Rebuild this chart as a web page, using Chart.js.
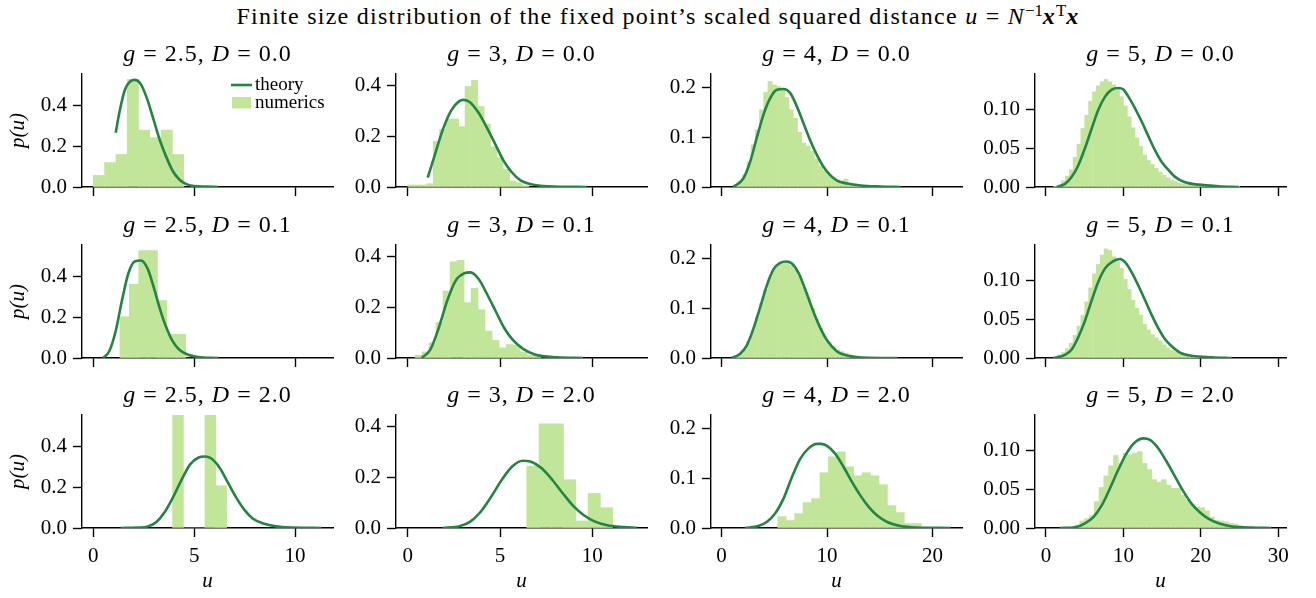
<!DOCTYPE html>
<html>
<head>
<meta charset="utf-8">
<script src="https://cdn.jsdelivr.net/npm/chart.js@4.4.1/dist/chart.umd.min.js"></script>
<style>
  body { margin: 0; background: #fff; width: 1316px; height: 598px; position: relative; overflow: hidden;
         font-family: "Liberation Serif", "Times New Roman", serif; color: #000; }
  .ttl { position: absolute; text-align: center; white-space: nowrap; line-height: 30px; font-size: 24px; letter-spacing: 1px; }
  .main { letter-spacing: 1.25px; }
  sup { font-size: 0.7em; line-height: 0; vertical-align: 0.5em; letter-spacing: 0; }
  canvas { position: absolute; }
</style>
</head>
<body>
<div class="ttl main" style="left:0;width:1316px;top:1px">Finite size distribution of the fixed point’s scaled squared distance <i>u</i> = <i>N</i><sup>−1</sup><b><i>x</i></b><sup>T</sup><b><i>x</i></b></div>
<script>
// ---- labels / axes -------------------------------------------------------
const gLabels = ['2.5', '3', '4', '5'];
const dLabels = ['0.0', '0.1', '2.0'];
const legendLabels = ['theory', 'numerics'];

const xMin = [-0.56, -0.64, -1.0, -1.42];
const xMax = [11.88, 12.97, 22.8, 31.0];
const xTicks = [[0, 5, 10], [0, 5, 10], [0, 10, 20], [0, 10, 20, 30]];
const yMax = [0.556, 0.445, 0.227, 0.145];
const yTicks = [[0, 0.2, 0.4], [0, 0.2, 0.4], [0, 0.1, 0.2], [0, 0.05, 0.1]];
const yTickLabels = [['0.0', '0.2', '0.4'], ['0.0', '0.2', '0.4'], ['0.0', '0.1', '0.2'], ['0.00', '0.05', '0.10']];

// ---- histogram bins: first edge and width, rows = D, cols = g ---------------
const binStart = [[0.0, 0.0, 1.2, 1.0], [1.32, 0.39, 1.2, 1.0], [3.93, 6.45, 5.33, 3.75]];
const binWidth = [[0.56, 0.345, 0.4, 0.5], [0.465, 0.38, 0.4, 0.5], [0.535, 0.665, 0.8, 0.62]];

// ---- numerics (histogram densities) ----------------------------------------
const hist_g25_D00 = [0.057, 0.12, 0.16, 0.53, 0.28, 0.243, 0.28, 0.16];
const hist_g3_D00 = [0.008, 0.008, 0.008, 0.013, 0.18, 0.228, 0.268, 0.268, 0.238, 0.396, 0.42, 0.317, 0.248, 0.158, 0.116, 0.07, 0.024, 0.017, 0.005];
const hist_g4_D00 = [0.005, 0.012, 0.025, 0.05, 0.085, 0.115, 0.155, 0.19, 0.212, 0.205, 0.202, 0.195, 0.18, 0.155, 0.138, 0.11,
  0.088, 0.082, 0.072, 0.056, 0.042, 0.033, 0.025, 0.019, 0.014, 0.012, 0.016, 0.008, 0.006, 0.004, 0.003, 0.003, 0.002,
  0.001, 0.001, 0.001, 0.001, 0.001, 0.001];
const hist_g5_D00 = [0.001, 0.003, 0.008, 0.014, 0.022, 0.038, 0.055, 0.075, 0.092, 0.11, 0.122, 0.13, 0.135, 0.138, 0.135, 0.131,
  0.125, 0.116, 0.104, 0.09, 0.076, 0.063, 0.052, 0.041, 0.034, 0.029, 0.024, 0.019, 0.015, 0.012, 0.009, 0.007, 0.005, 0.004,
  0.003, 0.003, 0.002, 0.002, 0.002, 0.001, 0.001, 0.001, 0.001, 0.001, 0.001, 0.001, 0.001, 0.001];

const hist_g25_D01 = [0.203, 0.363, 0.528, 0.528, 0.283, 0.117, 0.117];
const hist_g3_D01 = [0.011, 0.024, 0.06, 0.14, 0.264, 0.379, 0.385, 0.218, 0.275, 0.19, 0.106, 0.069, 0.04, 0.053, 0.05, 0.024, 0.011, 0.016];
const hist_g4_D01 = [0.003, 0.009, 0.018, 0.034, 0.056, 0.082, 0.11, 0.138, 0.162, 0.178, 0.186, 0.19, 0.19, 0.186, 0.178, 0.164,
  0.143, 0.122, 0.1, 0.078, 0.06, 0.044, 0.032, 0.024, 0.016, 0.013, 0.01, 0.006, 0.004, 0.003, 0.002, 0.002, 0.001, 0.001, 0.001];
const hist_g5_D01 = [0.001, 0.004, 0.007, 0.012, 0.019, 0.029, 0.041, 0.055, 0.072, 0.09, 0.108, 0.12, 0.132, 0.14, 0.138, 0.13,
  0.124, 0.115, 0.101, 0.088, 0.074, 0.064, 0.055, 0.043, 0.036, 0.03, 0.026, 0.022, 0.017, 0.013, 0.01, 0.008, 0.006, 0.005,
  0.004, 0.003, 0.003, 0.002, 0.002, 0.001, 0.001, 0.001, 0.001, 0.001, 0.001];

const hist_g25_D20 = [0.556, 0, 0, 0.556, 0.208];
const hist_g3_D20 = [0.244, 0.41, 0.41, 0.19, 0.028, 0.136, 0.08];
const hist_g4_D20 = [0.023, 0.015, 0.029, 0.051, 0.059, 0.111, 0.143, 0.153, 0.123, 0.105, 0.111, 0.105, 0.087, 0.045, 0.031, 0.009, 0.009];
const hist_g5_D20 = [0.004, 0.009, 0.012, 0.016, 0.034, 0.052, 0.067, 0.08, 0.093, 0.083, 0.096, 0.094, 0.096, 0.098, 0.083, 0.075,
  0.062, 0.059, 0.062, 0.055, 0.051, 0.051, 0.042, 0.036, 0.03, 0.027, 0.026, 0.022, 0.014, 0.01, 0.009, 0.008, 0.006, 0.005,
  0.003, 0.002, 0.001];

// ---- theory curves [u, p(u)] -------------------------------------------------
const theory_g25_D00 = [[1.11, 0.267], [1.32, 0.38], [1.57, 0.48], [1.84, 0.52], [2.05, 0.527], [2.36, 0.505], [2.68, 0.43],
  [2.99, 0.33], [3.3, 0.23], [3.62, 0.147], [3.93, 0.08], [4.25, 0.038], [4.56, 0.017], [4.98, 0.005], [5.6, 0.002], [6.2, 0]];
const theory_g3_D00 = [[1.08, 0.037], [1.42, 0.116], [1.88, 0.222], [2.34, 0.3], [2.79, 0.338], [3.02, 0.343], [3.37, 0.334],
  [3.82, 0.294], [4.28, 0.235], [4.74, 0.169], [5.2, 0.103], [5.65, 0.057], [6.11, 0.026], [6.69, 0.011], [7.6, 0.003], [9.7, 0]];
const theory_g4_D00 = [[1.1, 0], [2.06, 0.017], [2.7, 0.05], [3.33, 0.098], [3.97, 0.145], [4.6, 0.178], [5.2, 0.195], [5.87, 0.197],
  [6.5, 0.189], [7.14, 0.162], [7.77, 0.128], [8.4, 0.094], [9.05, 0.064], [9.68, 0.04], [10.3, 0.024], [10.95, 0.013],
  [11.9, 0.007], [13.2, 0.003], [15.1, 0.001], [17, 0]];
const theory_g5_D00 = [[1.38, 0], [2.46, 0.004], [3.32, 0.013], [4.18, 0.028], [5.04, 0.05], [5.9, 0.075], [6.76, 0.099],
  [7.63, 0.116], [8.49, 0.125], [9.35, 0.127], [9.99, 0.125], [10.64, 0.116], [11.5, 0.101], [12.36, 0.084], [13.23, 0.065],
  [14.09, 0.047], [14.95, 0.032], [15.81, 0.022], [16.67, 0.013], [17.96, 0.006], [19.68, 0.003], [22.3, 0.001], [24.9, 0]];

const theory_g25_D01 = [[0.48, 0], [0.79, 0.033], [1.11, 0.133], [1.42, 0.283], [1.74, 0.417], [2.05, 0.475], [2.36, 0.48],
  [2.68, 0.442], [2.99, 0.35], [3.3, 0.242], [3.62, 0.15], [3.93, 0.083], [4.25, 0.042], [4.67, 0.017], [5.19, 0.005], [6.2, 0]];
const theory_g3_D01 = [[0.75, 0], [1.22, 0.033], [1.68, 0.119], [2.13, 0.224], [2.59, 0.304], [3.05, 0.333], [3.39, 0.337],
  [3.85, 0.31], [4.3, 0.251], [4.76, 0.185], [5.22, 0.119], [5.67, 0.073], [6.25, 0.036], [6.93, 0.013], [8.08, 0.003], [9.5, 0]];
const theory_g4_D01 = [[0.95, 0], [1.74, 0.008], [2.38, 0.025], [3.01, 0.058], [3.65, 0.101], [4.28, 0.145], [4.92, 0.178],
  [5.55, 0.191], [6.12, 0.194], [6.67, 0.19], [7.3, 0.171], [7.93, 0.138], [8.57, 0.101], [9.2, 0.068], [9.84, 0.041],
  [10.47, 0.023], [11.11, 0.011], [11.9, 0.005], [13.2, 0.001], [16.7, 0]];
const theory_g5_D01 = [[0.95, 0], [2.46, 0.004], [3.32, 0.011], [4.18, 0.027], [5.04, 0.048], [5.9, 0.074], [6.76, 0.098],
  [7.63, 0.115], [8.49, 0.123], [9.56, 0.127], [10.21, 0.123], [11.07, 0.11], [11.93, 0.093], [12.8, 0.074], [13.66, 0.055],
  [14.52, 0.038], [15.38, 0.024], [16.24, 0.015], [17.31, 0.007], [18.82, 0.003], [21.4, 0.001], [24.0, 0]];

const theory_g25_D20 = [[1.35, 0], [2.19, 0.002], [2.71, 0.008], [3.13, 0.03], [3.55, 0.08], [3.97, 0.155], [4.38, 0.238],
  [4.8, 0.313], [5.22, 0.347], [5.53, 0.352], [5.85, 0.342], [6.26, 0.297], [6.68, 0.222], [7.1, 0.147], [7.5, 0.088],
  [7.9, 0.047], [8.43, 0.022], [9.05, 0.008], [9.9, 0.002], [11.3, 0]];
const theory_g3_D20 = [[1.88, 0], [2.8, 0.007], [3.37, 0.024], [3.94, 0.063], [4.52, 0.123], [5.09, 0.189], [5.66, 0.242],
  [6.23, 0.265], [6.69, 0.261], [7.26, 0.235], [7.84, 0.189], [8.41, 0.136], [8.98, 0.086], [9.55, 0.05], [10.12, 0.026],
  [10.81, 0.011], [11.73, 0.004], [12.42, 0.001]];
const theory_g4_D20 = [[2.22, 0], [3.49, 0.004], [4.28, 0.012], [5.08, 0.029], [5.87, 0.059], [6.67, 0.102], [7.46, 0.139],
  [8.25, 0.16], [9.05, 0.169], [9.43, 0.169], [10.0, 0.165], [10.79, 0.149], [11.59, 0.122], [12.38, 0.092], [13.17, 0.065],
  [13.97, 0.042], [14.76, 0.025], [15.71, 0.012], [16.98, 0.004], [18.57, 0.001], [21.7, 0]];
const theory_g5_D20 = [[1.81, 0], [3.75, 0.001], [5.04, 0.006], [6.12, 0.014], [7.2, 0.029], [8.27, 0.051], [9.35, 0.075],
  [10.42, 0.096], [11.5, 0.11], [12.57, 0.115], [13.44, 0.113], [14.52, 0.102], [15.59, 0.085], [16.67, 0.066], [17.75, 0.047],
  [18.82, 0.031], [19.9, 0.02], [20.97, 0.012], [22.27, 0.006], [23.99, 0.002], [26.57, 0.0005], [29.1, 0]];

const histograms = [
  [hist_g25_D00, hist_g3_D00, hist_g4_D00, hist_g5_D00],
  [hist_g25_D01, hist_g3_D01, hist_g4_D01, hist_g5_D01],
  [hist_g25_D20, hist_g3_D20, hist_g4_D20, hist_g5_D20]
];
const theories = [
  [theory_g25_D00, theory_g3_D00, theory_g4_D00, theory_g5_D00],
  [theory_g25_D01, theory_g3_D01, theory_g4_D01, theory_g5_D01],
  [theory_g25_D20, theory_g3_D20, theory_g4_D20, theory_g5_D20]
];

// ---- layout (pixels of the axes boxes) ------------------------------------
const FONT = '"Liberation Serif", "Times New Roman", serif';
const lineColor = '#238443';
const histColor = '#c2e699';
const axLeft = [82, 396, 711, 1035];
const axTop = [74, 245, 415];
const axW = 251, axH = 113;
const padT = 8, padR = 16;
const padL = [82, 60, 60, 60];
const padB = [12, 12, 70];

// legend drawn inside the first panel, top right
const legendPlugin = {
  id: 'panelLegend',
  afterDraw(chart) {
    const ctx = chart.ctx, a = chart.chartArea;
    const x0 = a.left + 149;
    ctx.save();
    ctx.strokeStyle = lineColor;
    ctx.lineWidth = 2.6;
    ctx.beginPath();
    ctx.moveTo(x0, a.top + 11);
    ctx.lineTo(x0 + 21, a.top + 11);
    ctx.stroke();
    ctx.fillStyle = histColor;
    ctx.fillRect(x0 + 1, a.top + 23, 19, 11.5);
    ctx.fillStyle = '#000';
    ctx.font = '19px ' + FONT;
    ctx.textBaseline = 'middle';
    ctx.fillText(legendLabels[0], x0 + 24, a.top + 11);
    ctx.fillText(legendLabels[1], x0 + 24, a.top + 29);
    ctx.restore();
  }
};

function zeroPadding(s) {
  s.paddingLeft = 0; s.paddingRight = 0; s.paddingTop = 0; s.paddingBottom = 0;
}

function drawPanel(r, c) {
  var w = padL[c] + axW + padR;
  var h = padT + axH + padB[r];
  var canvas = document.createElement('canvas');
  canvas.width = w;
  canvas.height = h;
  canvas.style.left = (axLeft[c] - padL[c]) + 'px';
  canvas.style.top = (axTop[r] - padT) + 'px';
  canvas.style.width = w + 'px';
  canvas.style.height = h + 'px';
  document.body.appendChild(canvas);

  var title = document.createElement('div');
  title.className = 'ttl';
  title.style.left = axLeft[c] + 'px';
  title.style.width = axW + 'px';
  title.style.top = (axTop[r] - 36) + 'px';
  title.innerHTML = '<i>g</i> = ' + gLabels[c] + ', <i>D</i> = ' + dLabels[r];
  document.body.appendChild(title);

  var start = binStart[r][c], width = binWidth[r][c];
  var bars = histograms[r][c].map(function (p, i) { return {x: start + (i + 0.5) * width, y: p}; });
  var curve = theories[r][c].map(function (pt) { return {x: pt[0], y: pt[1]}; });

  var tickFont = {family: FONT, size: 21};
  var axisCommon = {
    z: 1,
    grid: {drawOnChartArea: false, drawTicks: true, tickLength: 9, tickWidth: 1.4, tickColor: '#000', offset: false},
    border: {display: true, color: '#000', width: 1.4}
  };

  new Chart(canvas.getContext('2d'), {
    type: 'bar',
    data: {
      datasets: [
        {type: 'line', label: legendLabels[0], data: curve, borderColor: lineColor, borderWidth: 2.6,
         pointRadius: 0, fill: false, cubicInterpolationMode: 'monotone', order: 1},
        {type: 'bar', label: legendLabels[1], data: bars, backgroundColor: histColor, borderWidth: 0,
         barPercentage: 1, categoryPercentage: 1, order: 2, clip: 0}
      ]
    },
    options: {
      responsive: false,
      animation: false,
      events: [],
      layout: {padding: {top: padT, right: padR, left: 0, bottom: 0}},
      plugins: {legend: {display: false}, tooltip: {enabled: false}, title: {display: false}},
      scales: {
        x: Object.assign({}, axisCommon, {
          type: 'linear', min: xMin[c], max: xMax[c], offset: false,
          afterBuildTicks: function (s) { s.ticks = xTicks[c].map(function (v) { return {value: v}; }); },
          afterFit: function (s) { s.height = padB[r]; zeroPadding(s); },
          ticks: {display: r === 2, autoSkip: false, maxRotation: 0, padding: 7, color: '#000', font: tickFont,
                  callback: function (v, i) { return String(xTicks[c][i]); }},
          title: {display: r === 2, text: 'u', color: '#000', font: {family: FONT, size: 21, style: 'italic'},
                  padding: {top: 0, bottom: 4}}
        }),
        y: Object.assign({}, axisCommon, {
          type: 'linear', min: 0, max: yMax[c],
          afterBuildTicks: function (s) { s.ticks = yTicks[c].map(function (v) { return {value: v}; }); },
          afterFit: function (s) { s.width = padL[c]; zeroPadding(s); },
          ticks: {padding: 6, color: '#000', font: tickFont,
                  callback: function (v, i) { return yTickLabels[c][i]; }},
          title: {display: c === 0, text: 'p(u)', color: '#000', font: {family: FONT, size: 21, style: 'italic'},
                  padding: {top: 6, bottom: 0}}
        })
      }
    },
    plugins: (r === 0 && c === 0) ? [legendPlugin] : []
  });
}

for (var r = 0; r < 3; r++) {
  for (var c = 0; c < 4; c++) {
    drawPanel(r, c);
  }
}
</script>
</body>
</html>
